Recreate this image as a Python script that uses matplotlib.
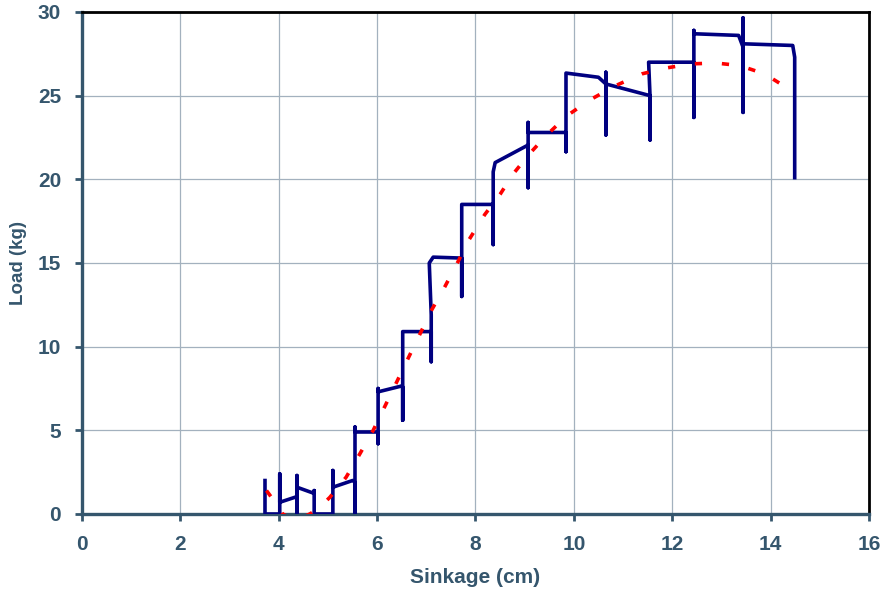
import matplotlib.pyplot as plt

plt.rcParams['font.family'] = ['Liberation Sans', 'DejaVu Sans']

# measured curve (sinkage cm, load kg), traced in order
sinkage = [3.72, 3.72, 4.02, 4.02, 4.02, 4.33, 4.37, 4.37, 4.37, 4.37, 4.70, 4.72, 4.72, 4.72,
           5.10, 5.10, 5.10, 5.50, 5.55, 5.55, 5.55, 5.55, 6.02, 6.02, 6.02, 6.02, 6.50, 6.52,
           6.52, 6.52, 7.10, 7.10, 7.10, 7.06, 7.14, 7.65, 7.72, 7.72, 7.72, 8.36, 8.36, 8.36,
           8.40, 9.07, 9.07, 9.07, 9.07, 9.84, 9.84, 9.84, 10.50, 10.65, 10.65, 10.65, 10.65,
           11.55, 11.55, 11.55, 11.52, 12.44, 12.44, 12.44, 12.44, 13.35, 13.44, 13.44, 13.44,
           13.44, 14.45, 14.49, 14.49]
load = [2.0, 0.0, 0.0, 2.4, 0.7, 1.0, 1.05, 2.3, 0.0, 1.6, 1.25, 1.3, 1.4, 0.0,
        0.0, 2.6, 1.6, 2.0, 1.9, 0.0, 5.2, 4.9, 4.9, 4.2, 7.5, 7.3, 7.65, 7.6,
        5.6, 10.9, 10.9, 9.1, 11.9, 15.0, 15.35, 15.3, 15.3, 13.0, 18.5, 18.5, 16.1, 20.45,
        21.0, 22.05, 19.5, 23.4, 22.8, 22.8, 21.65, 26.35, 26.1, 25.7, 22.65, 26.4, 25.7,
        25.0, 22.35, 24.9, 27.0, 27.0, 23.7, 28.9, 28.7, 28.6, 27.9, 24.0, 29.65,
        28.1, 28.0, 27.3, 20.1]

# fitted trend (dotted red)
trend_x = [3.75, 3.9, 4.08, 4.35, 4.63, 4.8, 5.04, 5.37, 5.65, 5.92, 6.16, 6.4, 6.63, 6.87,
           7.11, 7.38, 7.64, 7.87, 8.19, 8.5, 8.76, 9.09, 9.45, 9.86, 10.33, 10.85, 11.38,
           11.87, 12.38, 12.89, 13.37, 13.88, 14.37, 14.5]
trend_y = [1.4, 0.8, 0.0, -0.4, 0.0, 0.3, 1.0, 2.2, 3.6, 5.0, 6.45, 7.9, 9.3, 10.75,
           12.2, 13.6, 15.05, 16.4, 17.9, 19.1, 20.3, 21.5, 22.65, 23.8, 24.75, 25.6, 26.3,
           26.65, 26.9, 26.95, 26.8, 26.3, 25.4, 25.1]

slate = '#35566d'

fig = plt.figure(figsize=(8.83, 5.94), dpi=100)
ax = fig.add_axes([0.0929, 0.1347, 0.8912, 0.8451])

ax.plot(sinkage, load, color='#000080', lw=2.6, solid_joinstyle='round', zorder=3)
ax.plot(trend_x, trend_y, color='#ff0000', lw=2.6, linestyle=(0, (2, 5.5)), zorder=4)

ax.set_xlim(0, 16)
ax.set_ylim(0, 30)
ax.set_xticks(range(0, 17, 2))
ax.set_yticks(range(0, 31, 5))
ax.grid(True, color='#a3b1be', lw=0.9)
ax.set_axisbelow(True)

for side in ['left', 'bottom']:
    ax.spines[side].set_color(slate)
    ax.spines[side].set_linewidth(2.4)
for side in ['top', 'right']:
    ax.spines[side].set_color('black')
    ax.spines[side].set_linewidth(2.0)

ax.tick_params(direction='out', length=5, width=2, color=slate, labelcolor=slate)
ax.tick_params(axis='x', pad=10)
ax.tick_params(axis='y', pad=10)
for lbl in ax.get_xticklabels() + ax.get_yticklabels():
    lbl.set_fontweight('bold')
    lbl.set_fontsize(15)

ax.set_xlabel('Sinkage (cm)', fontsize=15, fontweight='bold', color=slate, labelpad=10)
ax.set_ylabel('Load (kg)', fontsize=13.5, fontweight='bold', color=slate, labelpad=8)

fig.savefig('out.png', dpi=100)
